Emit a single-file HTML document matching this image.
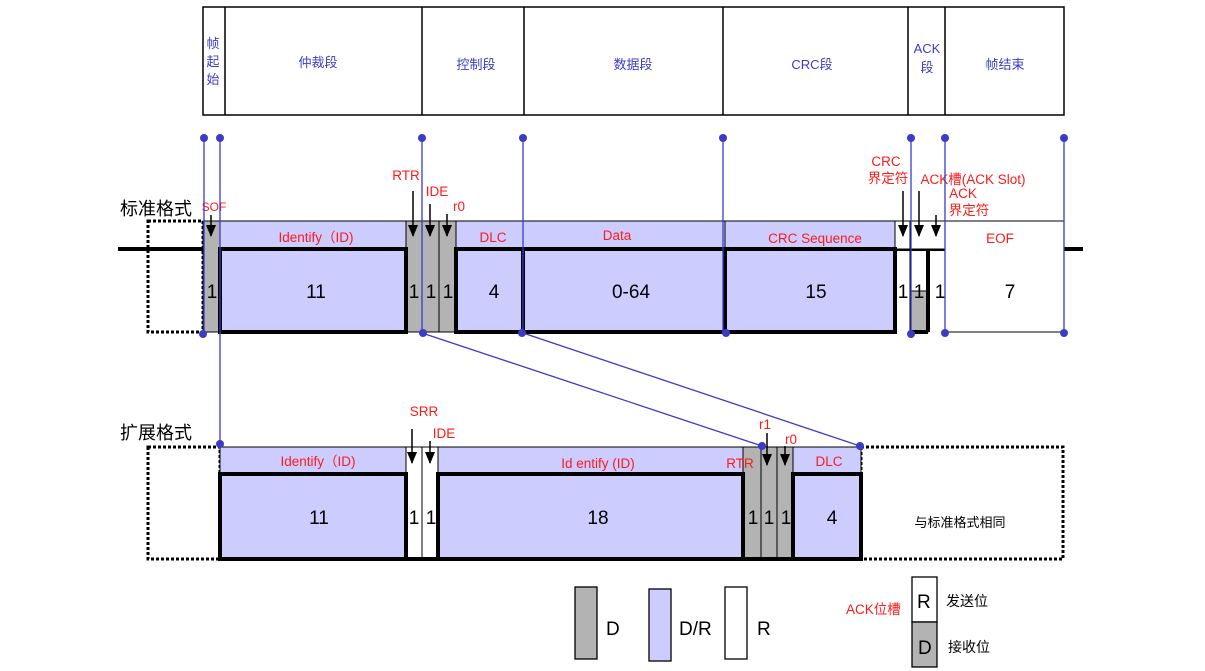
<!DOCTYPE html>
<html><head><meta charset="utf-8"><style>
html,body{margin:0;padding:0;background:#fff;width:1205px;height:671px;overflow:hidden}
svg{display:block;font-family:"Liberation Sans","Noto Sans CJK SC",sans-serif}
.b{fill:#3b3bc8;font-size:13px}
.r{fill:#ff1a1a;font-size:13.5px}
.n{fill:#000;font-size:19px}
</style></head><body>
<svg width="1205" height="671" viewBox="0 0 1205 671">
<defs><marker id="ar" markerWidth="10" markerHeight="12" refX="5" refY="11" markerUnits="userSpaceOnUse"><path d="M0,0 L10,0 L5,12 z" fill="#000"/></marker></defs>
<!-- top table -->
<g stroke="#000" stroke-width="1.5" fill="none">
<rect x="203" y="7" width="861" height="108"/>
<line x1="225" y1="7" x2="225" y2="115"/><line x1="422" y1="7" x2="422" y2="115"/>
<line x1="524" y1="7" x2="524" y2="115"/><line x1="723" y1="7" x2="723" y2="115"/>
<line x1="908" y1="7" x2="908" y2="115"/><line x1="945" y1="7" x2="945" y2="115"/>
</g>
<g class="b" text-anchor="middle">
<text x="213" y="48">帧</text><text x="213" y="66">起</text><text x="213" y="84">始</text>
<text x="318" y="67">仲裁段</text><text x="476" y="69">控制段</text><text x="633" y="69">数据段</text>
<text x="812" y="69">CRC段</text><text x="927" y="53">ACK</text><text x="927" y="72">段</text><text x="1005" y="69">帧结束</text>
</g>
<!-- standard frame -->
<text x="120" y="215" font-size="18" fill="#000">标准格式</text>
<rect x="148" y="221" width="55" height="111" fill="none" stroke="#000" stroke-width="3" stroke-dasharray="3,2"/>
<line x1="118" y1="249" x2="1083" y2="249" stroke="#000" stroke-width="4"/>
<g stroke="#000" stroke-width="1">
<rect x="203" y="221" width="17" height="111" fill="#b3b3b3"/>
<rect x="220" y="221" width="186" height="28" fill="#ccccff"/>
<rect x="406" y="221" width="50" height="111" fill="#b3b3b3"/>
<rect x="456" y="221" width="269" height="28" fill="#ccccff"/>
<rect x="725" y="221" width="170" height="28" fill="#ccccff"/>
<rect x="895" y="221" width="50" height="28" fill="#fff"/>
<rect x="945" y="221" width="119" height="111" fill="#fff"/>
<rect x="910" y="291" width="18" height="41" fill="#b3b3b3"/>
<line x1="422" y1="221" x2="422" y2="332"/><line x1="439" y1="221" x2="439" y2="332"/>
<line x1="910" y1="221" x2="910" y2="291"/>
</g>
<g stroke="#000" stroke-width="4" fill="#ccccff">
<rect x="220" y="249" width="186" height="83"/>
<rect x="456" y="249" width="67" height="83"/>
<rect x="523" y="249" width="202" height="83"/>
<rect x="725" y="249" width="170" height="83"/>
<line x1="895" y1="249" x2="895" y2="332"/><line x1="928" y1="249" x2="928" y2="332"/>
<line x1="910" y1="332" x2="928" y2="332"/>
</g>
<g class="n" text-anchor="middle">
<text x="212" y="298">1</text><text x="316" y="298">11</text><text x="414" y="298">1</text><text x="431" y="298">1</text><text x="448" y="298">1</text>
<text x="494" y="298">4</text><text x="631" y="298">0-64</text><text x="816" y="298">15</text>
<text x="903" y="298">1</text><text x="919" y="298">1</text><text x="940" y="298">1</text><text x="1010" y="298">7</text>
</g>
<g class="r" text-anchor="middle">
<text x="316" y="242">Identify（ID)</text><text x="493" y="242">DLC</text><text x="617" y="240">Data</text>
<text x="815" y="243">CRC Sequence</text><text x="1000" y="243">EOF</text>
<text x="214" y="211" font-size="12">SOF</text><text x="406" y="180">RTR</text><text x="437" y="196">IDE</text><text x="459" y="211">r0</text>
<text x="886" y="166">CRC</text><text x="888" y="183">界定符</text><text x="973" y="184">ACK槽(ACK Slot)</text>
<text x="963" y="198">ACK</text><text x="969" y="215">界定符</text>
</g>
<g stroke="#000" stroke-width="1.5" marker-end="url(#ar)">
<line x1="211" y1="215" x2="211" y2="236"/><line x1="413" y1="191" x2="413" y2="236"/>
<line x1="430" y1="204" x2="430" y2="236"/><line x1="447" y1="214" x2="447" y2="236"/>
<line x1="903" y1="191" x2="903" y2="236"/><line x1="919" y1="191" x2="919" y2="236"/><line x1="936" y1="215" x2="936" y2="236"/>
</g>
<!-- extended frame -->
<text x="120" y="439" font-size="18" fill="#000">扩展格式</text>
<rect x="148" y="447" width="72" height="112" fill="none" stroke="#000" stroke-width="3" stroke-dasharray="3,2"/>
<rect x="861" y="447" width="202" height="112" fill="none" stroke="#000" stroke-width="3" stroke-dasharray="3,2"/>
<g stroke="#000" stroke-width="1">
<rect x="220" y="447" width="186" height="27" fill="#ccccff"/>
<rect x="406" y="447" width="32" height="112" fill="#fff"/><line x1="422" y1="447" x2="422" y2="559"/>
<rect x="438" y="447" width="305" height="27" fill="#ccccff"/>
<rect x="743" y="447" width="50" height="112" fill="#b3b3b3"/>
<line x1="761" y1="447" x2="761" y2="559"/><line x1="777" y1="447" x2="777" y2="559"/>
<rect x="793" y="447" width="68" height="27" fill="#ccccff"/>
</g>
<g stroke="#000" stroke-width="4" fill="#ccccff">
<rect x="220" y="474" width="186" height="85"/>
<rect x="438" y="474" width="305" height="85"/>
<rect x="793" y="474" width="68" height="85"/>
<line x1="406" y1="559" x2="438" y2="559"/><line x1="743" y1="559" x2="793" y2="559"/>
</g>
<g class="n" text-anchor="middle">
<text x="319" y="524">11</text><text x="414" y="524">1</text><text x="431" y="524">1</text><text x="598" y="524">18</text>
<text x="753" y="524">1</text><text x="769" y="524">1</text><text x="786" y="524">1</text><text x="832" y="524">4</text>
</g>
<text x="960" y="527" font-size="13" text-anchor="middle" fill="#000">与标准格式相同</text>
<g class="r" text-anchor="middle">
<text x="318" y="466">Identify（ID)</text><text x="598" y="468">Id entify (ID)</text><text x="740" y="468">RTR</text>
<text x="829" y="466">DLC</text><text x="424" y="416">SRR</text><text x="444" y="438">IDE</text>
<text x="765" y="429">r1</text><text x="791" y="444">r0</text>
</g>
<g stroke="#000" stroke-width="1.5" marker-end="url(#ar)">
<line x1="412" y1="429" x2="412" y2="463"/><line x1="430" y1="441" x2="430" y2="463"/>
<line x1="767" y1="433" x2="767" y2="465"/><line x1="785" y1="446" x2="785" y2="465"/>
</g>
<!-- blue lines -->
<g stroke="#3b3bc8" stroke-width="1.3" fill="#3b3bc8">
<line x1="204" y1="138" x2="204" y2="333"/><line x1="220" y1="138" x2="220" y2="446"/>
<line x1="422" y1="138" x2="422" y2="333"/><line x1="523" y1="138" x2="523" y2="333"/>
<line x1="723" y1="138" x2="723" y2="333"/><line x1="911" y1="138" x2="911" y2="333"/>
<line x1="945" y1="138" x2="945" y2="333"/><line x1="1064" y1="138" x2="1064" y2="333"/>
<line x1="422" y1="333" x2="762" y2="446"/><line x1="523" y1="333" x2="860" y2="446"/>
<g stroke="none">
<circle cx="204" cy="138" r="4"/><circle cx="220" cy="138" r="4"/><circle cx="422" cy="138" r="4"/><circle cx="523" cy="138" r="4"/>
<circle cx="723" cy="138" r="4"/><circle cx="911" cy="138" r="4"/><circle cx="945" cy="138" r="4"/><circle cx="1064" cy="138" r="4"/>
<circle cx="203" cy="334" r="4"/><circle cx="423" cy="333" r="4"/><circle cx="522" cy="333" r="4"/><circle cx="726" cy="333" r="4"/>
<circle cx="911" cy="334" r="4"/><circle cx="945" cy="333" r="4"/><circle cx="1064" cy="333" r="4"/>
<circle cx="220" cy="444" r="4"/><circle cx="762" cy="446" r="4"/><circle cx="860" cy="446" r="4"/>
</g>
</g>
<!-- legend -->
<g stroke="#000" stroke-width="1.3">
<rect x="575" y="587" width="22" height="72" fill="#b3b3b3"/>
<rect x="649" y="589" width="22" height="72" fill="#ccccff"/>
<rect x="725" y="587" width="22" height="72" fill="#fff"/>
<rect x="912" y="577" width="25" height="45" fill="#fff"/>
<rect x="912" y="622" width="25" height="45" fill="#b3b3b3"/>
</g>
<g class="n">
<text x="606" y="635">D</text><text x="679" y="635">D/R</text><text x="757" y="635">R</text>
<text x="917" y="608">R</text><text x="918" y="654">D</text>
</g>
<text x="846" y="614" class="r" font-size="14">ACK位槽</text>
<text x="946" y="606" font-size="14" fill="#000">发送位</text>
<text x="948" y="652" font-size="14" fill="#000">接收位</text>
</svg>
</body></html>
